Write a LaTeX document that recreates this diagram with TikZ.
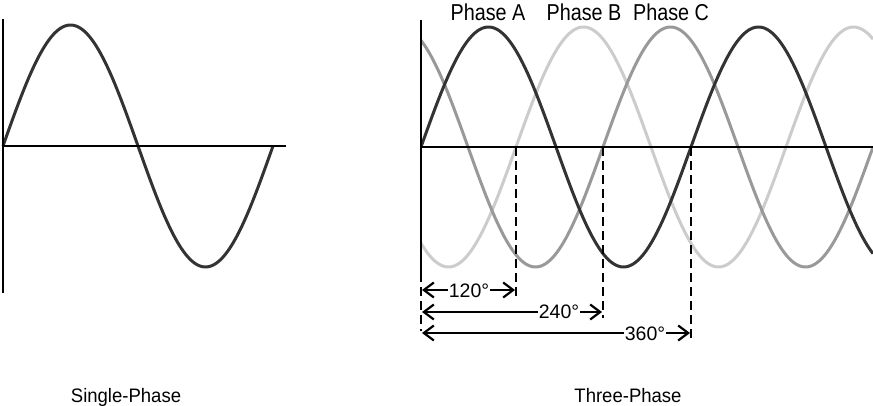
\documentclass[tikz,border=0pt]{standalone}
\usepackage{fontspec}
\setmainfont{Liberation Sans}
\newfontfamily\phasefont[FakeStretch=0.86]{Liberation Sans}
\newfontfamily\titlefont[FakeStretch=0.95]{Liberation Sans}
\usetikzlibrary{arrows.meta}
\definecolor{waveA}{HTML}{333333}
\definecolor{waveB}{HTML}{CCCCCC}
\definecolor{waveC}{HTML}{999999}
\tikzset{
  wave/.style={line width=3pt, line join=round},
  axisline/.style={line width=2pt, black},
  guide/.style={line width=1.4pt, black, dash pattern=on 9pt off 5pt},
  dimarrow/.style={line width=2pt, black, {Straight Barb[length=10pt,width=15pt,line width=2.2pt]}-{Straight Barb[length=10pt,width=15pt,line width=2.2pt]}},
  dimlabel/.style={fill=white, inner sep=1pt, anchor=base, font=\fontsize{19.5}{19.5}\selectfont},
  phaselabel/.style={anchor=base, inner sep=0pt, font=\phasefont\fontsize{23}{23}\selectfont},
  title/.style={anchor=base, inner sep=0pt, font=\titlefont\fontsize{19.5}{19.5}\selectfont}
}
\begin{document}
\begin{tikzpicture}[x=1pt,y=-1pt]
\useasboundingbox (0,0) rectangle (873,406);
% ---------- single phase ----------
\draw[wave, waveA] plot[domain=3:273, samples=150, smooth] (\x, {146-121*sin(1.33333*(\x-3))});
\draw[axisline] (3,19) -- (3,293);
\draw[axisline] (3,146) -- (286,146);
\node[title] (t1) at (126,402) {Single-Phase};
% ---------- three phase ----------
\begin{scope}
\clip (421,0) rectangle (873,300);
\draw[wave, waveB] plot[domain=421:873, samples=250, smooth] (\x, {147-120*sin(1.33333*(\x-516))});
\draw[wave, waveC] plot[domain=421:873, samples=250, smooth] (\x, {147-120*sin(1.33333*(\x-603))});
\draw[wave, waveA] plot[domain=421:873, samples=250, smooth] (\x, {147-120*sin(1.33333*(\x-421))});
\end{scope}
\coordinate (o) at (421,147);
\coordinate (b) at (516,147);
\coordinate (c) at (603,147);
\coordinate (a2) at (691,147);
\draw[axisline] (421,20) -- (421,273);
\draw[axisline] (o) -- (873,147);
\draw[guide] (421,273) -- (421,331);
\draw[guide] (b) -- (516,297);
\draw[guide] (c) -- (603,318);
\draw[guide] (a2) -- (691,339);
\coordinate (l1) at (422,290);
\coordinate (r1) at (515,290);
\coordinate (l2) at (422,312);
\coordinate (r2) at (602,312);
\coordinate (l3) at (422,333);
\coordinate (r3) at (690,333);
\draw[dimarrow] (l1) -- (r1);
\draw[dimarrow] (l2) -- (r2);
\draw[dimarrow] (l3) -- (r3);
\node[dimlabel] (d1) at (469,297) {120°};
\node[dimlabel] (d2) at (559,318.5) {240°};
\node[dimlabel] (d3) at (645,340) {360°};
\node[phaselabel] (pa) at (488,20.5) {Phase A};
\node[phaselabel] (pb) at (584,20.5) {Phase B};
\node[phaselabel] (pc) at (671,20.5) {Phase C};
\node[title] (t3) at (628,402) {Three-Phase};
\end{tikzpicture}
\end{document}
